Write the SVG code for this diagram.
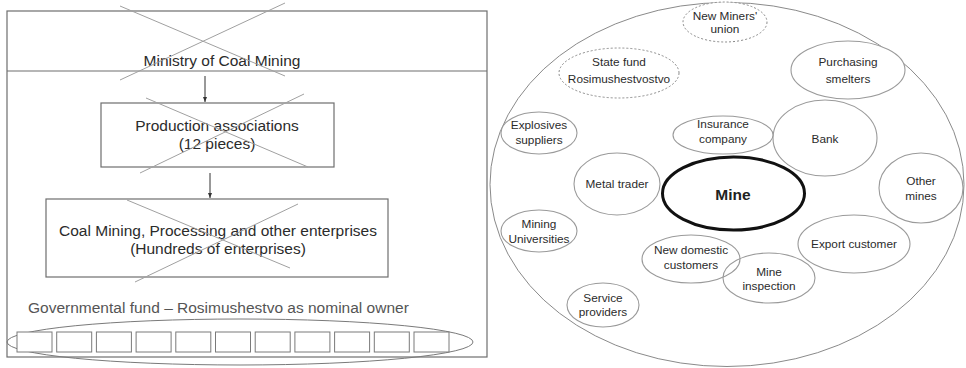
<svg xmlns="http://www.w3.org/2000/svg" width="966" height="368" viewBox="0 0 966 368">
  <style>
    text { font-family: "Liberation Sans", Arial, sans-serif; fill: #2b2b2b; text-anchor: middle; }
    .lt { font-size: 15.5px; }
    .rt { font-size: 11.8px; }
    .box { fill: none; stroke: #6e6e6e; stroke-width: 1.2; }
    .cross { stroke: #a0a0a0; stroke-width: 1; }
    .oval { fill: #fff; stroke: #9a9a9a; stroke-width: 1.1; }
    .dash { fill: #fff; stroke: #8a8a8a; stroke-width: 1; stroke-dasharray: 2 2; }
    .cell { fill: #fff; stroke: #7a7a7a; stroke-width: 1; }
    .link { stroke: #333; stroke-width: 1; fill: none; }
  </style>
  <defs>
    <marker id="arr" viewBox="0 0 10 10" refX="10" refY="5" markerWidth="5" markerHeight="5" orient="auto">
      <path d="M0,1 L10,5 L0,9 z" fill="#333"/>
    </marker>
  </defs>
  <rect width="966" height="368" fill="#fff"/>

  <!-- Left panel: former hierarchy -->
  <g id="frame">
    <rect class="box" x="7" y="11" width="480" height="346"/>
    <line class="box" x1="7" y1="71" x2="487" y2="71"/>
  </g>

  <g id="ministry">
    <text class="lt" x="222" y="66">Ministry of Coal Mining</text>
    <line class="cross" x1="120" y1="6" x2="285" y2="76"/>
    <line class="cross" x1="285" y1="3" x2="120" y2="80"/>
  </g>

  <g id="production">
    <rect class="box" x="101" y="103" width="233" height="64"/>
    <text class="lt" x="217" y="131">Production associations</text>
    <text class="lt" x="217" y="149">(12 pieces)</text>
    <line class="cross" x1="146" y1="98" x2="308" y2="167"/>
    <line class="cross" x1="304" y1="94" x2="140" y2="173"/>
  </g>

  <g id="enterprises">
    <rect class="box" x="46" y="199" width="342" height="78"/>
    <text class="lt" x="218" y="236">Coal Mining, Processing and other enterprises</text>
    <text class="lt" x="218" y="254">(Hundreds of enterprises)</text>
    <line class="cross" x1="127" y1="200" x2="290" y2="268"/>
    <line class="cross" x1="298" y1="204" x2="135" y2="282"/>
  </g>

  <g id="fund">
    <text class="lt" x="28" y="313" style="text-anchor:start;fill:#555">Governmental fund – Rosimushestvo as nominal owner</text>
    <ellipse cx="240" cy="342" rx="233" ry="23" fill="none" stroke="#7a7a7a" stroke-width="1"/>
    <rect class="cell" x="17" y="332" width="35" height="20"/>
    <rect class="cell" x="56.7" y="332" width="35" height="20"/>
    <rect class="cell" x="96.4" y="332" width="35" height="20"/>
    <rect class="cell" x="136.1" y="332" width="35" height="20"/>
    <rect class="cell" x="175.8" y="332" width="35" height="20"/>
    <rect class="cell" x="215.5" y="332" width="35" height="20"/>
    <rect class="cell" x="255.2" y="332" width="35" height="20"/>
    <rect class="cell" x="294.9" y="332" width="35" height="20"/>
    <rect class="cell" x="334.6" y="332" width="35" height="20"/>
    <rect class="cell" x="374.3" y="332" width="35" height="20"/>
    <rect class="cell" x="414" y="332" width="35" height="20"/>
  </g>

  <g id="connectors">
    <line class="link" x1="205" y1="76" x2="205" y2="102" marker-end="url(#arr)"/>
    <line class="link" x1="210" y1="173" x2="210" y2="198" marker-end="url(#arr)"/>
  </g>

  <!-- Right panel: mine environment -->
  <g id="environment">
    <ellipse cx="727" cy="184.5" rx="237" ry="182" fill="#fff" stroke="#8a8a8a" stroke-width="1"/>
  </g>

  <g id="miners-union">
    <ellipse class="dash" cx="725" cy="22" rx="42" ry="20"/>
    <text class="rt" x="725" y="20">New Miners'</text>
    <text class="rt" x="725" y="33">union</text>
  </g>

  <g id="state-fund">
    <ellipse class="dash" cx="619" cy="73" rx="60" ry="25"/>
    <text class="rt" x="619" y="66">State fund</text>
    <text class="rt" x="619" y="83">Rosimushestvostvo</text>
  </g>

  <g id="smelters">
    <ellipse class="oval" cx="848" cy="70" rx="57" ry="29"/>
    <text class="rt" x="848" y="66">Purchasing</text>
    <text class="rt" x="848" y="83">smelters</text>
  </g>

  <g id="explosives">
    <ellipse class="oval" cx="539" cy="133" rx="38" ry="21"/>
    <text class="rt" x="539" y="129">Explosives</text>
    <text class="rt" x="539" y="144">suppliers</text>
  </g>

  <g id="bank">
    <ellipse class="oval" cx="825" cy="138" rx="52" ry="38"/>
    <text class="rt" x="825" y="143">Bank</text>
  </g>

  <g id="insurance">
    <ellipse class="oval" cx="723" cy="135" rx="50" ry="19"/>
    <text class="rt" x="723" y="128">Insurance</text>
    <text class="rt" x="723" y="143">company</text>
  </g>

  <g id="metal-trader">
    <ellipse class="oval" cx="617" cy="184" rx="43" ry="31"/>
    <text class="rt" x="617" y="188">Metal trader</text>
  </g>

  <g id="other-mines">
    <ellipse class="oval" cx="921" cy="188" rx="42" ry="35"/>
    <text class="rt" x="921" y="185">Other</text>
    <text class="rt" x="921" y="200">mines</text>
  </g>

  <g id="mine">
    <ellipse cx="733.5" cy="193.5" rx="71" ry="36.5" fill="#fff" stroke="#111" stroke-width="3"/>
    <text x="733" y="200" style="font-size:15.5px;font-weight:bold;fill:#222">Mine</text>
  </g>

  <g id="universities">
    <ellipse class="oval" cx="539" cy="231" rx="38" ry="21"/>
    <text class="rt" x="539" y="228">Mining</text>
    <text class="rt" x="539" y="243">Universities</text>
  </g>

  <g id="export">
    <ellipse class="oval" cx="854" cy="244" rx="56" ry="29"/>
    <text class="rt" x="854" y="248">Export customer</text>
  </g>

  <g id="domestic">
    <ellipse class="oval" cx="691" cy="259" rx="49" ry="24"/>
    <text class="rt" x="691" y="254">New domestic</text>
    <text class="rt" x="691" y="269">customers</text>
  </g>

  <g id="inspection">
    <ellipse class="oval" cx="769" cy="278" rx="46" ry="25" fill="none" style="fill:none"/>
    <text class="rt" x="769" y="276">Mine</text>
    <text class="rt" x="769" y="290">inspection</text>
  </g>

  <g id="service">
    <ellipse class="oval" cx="603" cy="305" rx="36" ry="22"/>
    <text class="rt" x="603" y="302">Service</text>
    <text class="rt" x="603" y="316">providers</text>
  </g>
</svg>
